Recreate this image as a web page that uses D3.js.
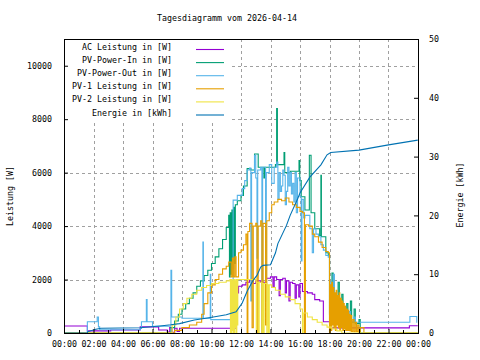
<!DOCTYPE html>
<html>
<head>
<meta charset="utf-8">
<script src="https://cdn.jsdelivr.net/npm/d3@7"></script>
<style>
  body { margin: 0; background: #fff; }
  text { font-family: "DejaVu Sans Mono", monospace; font-size: 8.3px; fill: #000; }
</style>
</head>
<body>
<div id="chart"></div>
<script>
// readings per series: [time, value]
const acLeistung = [
  ["00:00",260],["01:35",80],["03:10",110],["05:10",230],["06:25",110],["07:00",40],["07:10",200],
  ["07:20",30],["07:30",180],["07:40",60],["07:50",180],["11:40",1500],["11:50",1750],["12:05",1800],
  ["12:20",1900],["12:35",2000],["12:50",1850],["13:00",1950],["13:20",1900],["13:40",2050],["14:00",2100],
  ["14:10",1700],["14:15",2100],["14:25",2000],["14:35",1400],["14:40",2000],["14:50",2050],["15:00",1500],
  ["15:05",1950],["15:15",1200],["15:20",1900],["15:30",1850],["15:40",1300],["15:45",1800],["15:55",1350],
  ["16:00",1850],["16:10",1550],["16:30",1500],["16:50",1450],["17:00",1250],["17:20",1200],["17:35",420],
  ["18:05",190],["23:25",270],["23:59",270]
];
const pvPowerIn = [
  ["00:00",0],["07:10",0],["07:15",200],["07:30",450],["07:45",700],["08:00",900],["08:15",1100],
  ["08:30",1300],["08:45",1500],["09:00",1750],["09:15",1950],["09:30",2150],["09:45",2350],["10:00",2600],
  ["10:15",2850],["10:30",3150],["10:45",3500],["11:00",3950],["11:10",4400],["11:13",2100],["11:16",4500],
  ["11:20",2200],["11:23",4600],["11:27",2400],["11:30",4700],["11:34",2600],["11:37",4800],["11:45",4950],
  ["12:00",5150],["12:10",5500],["12:25",6150],["12:40",6100],["12:55",6700],["13:10",6200],["13:33",5800],
  ["13:36",6200],["14:00",6200],["14:20",6300],["14:25",8400],["14:28",6300],["14:55",6750],["14:58",6000],
  ["15:20",6050],["15:56",6450],["15:59",5700],["16:05",5100],["16:20",4600],["16:38",6650],["16:45",4500],
  ["17:00",3900],["17:20",3650],["17:25",5900],["17:27",3600],["17:45",3000],["17:55",2900],["18:00",700],
  ["18:10",2240],["18:15",700],["18:35",1900],["18:40",600],["18:50",1450],["18:55",500],["19:10",1100],
  ["19:15",450],["19:25",1200],["19:30",400],["19:40",900],["19:45",350],["20:00",500],["20:05",0],["23:59",0]
];
const pvPowerOut = [
  ["00:00",0],["01:35",420],["02:15",600],["02:20",230],["02:25",120],["05:10",170],["05:15",420],
  ["05:35",1250],["05:38",420],["06:00",250],["07:15",2350],["07:18",600],["08:00",550],["09:25",3400],
  ["09:27",550],["09:55",2200],["09:57",500],["11:25",500],["11:28",4970],["11:45",5150],["12:05",5400],
  ["12:15",5700],["12:25",6100],["12:35",6170],["12:40",1200],["12:43",6000],["12:55",6650],["13:00",5800],
  ["13:05",2800],["13:08",6100],["13:20",6200],["13:25",0],["13:28",6200],["13:40",1200],["13:43",6000],
  ["13:55",6300],["14:05",5600],["14:15",6200],["14:25",6400],["14:30",5000],["14:35",6000],["14:40",5300],
  ["14:45",5500],["14:50",6100],["14:55",5900],["15:00",4800],["15:05",5300],["15:10",6200],["15:15",5500],
  ["15:20",6000],["15:25",5200],["15:30",5600],["15:35",4900],["15:40",6000],["15:45",4500],["15:50",5800],
  ["16:00",5100],["16:05",2700],["16:08",5000],["16:15",4300],["16:20",4400],["16:30",4400],["16:40",3900],
  ["16:50",3000],["16:55",3900],["17:05",3700],["17:15",3600],["17:25",3300],["17:35",3100],["17:45",2900],
  ["17:55",2840],["18:00",500],["18:05",1900],["18:10",600],["18:15",2200],["18:20",500],["18:40",1300],
  ["18:45",450],["19:00",1000],["19:05",450],["19:20",800],["19:25",420],["19:40",600],["19:45",400],
  ["20:00",400],["23:27",620],["23:55",380]
];
const pv1Leistung = [
  ["00:00",0],["07:10",0],["07:30",100],["08:00",200],["08:30",300],["09:00",400],["09:20",700],
  ["09:30",1100],["09:45",1500],["10:00",1800],["10:15",2000],["10:30",2200],["10:45",2400],["11:00",2500],
  ["11:10",2650],["11:20",2100],["11:25",2800],["11:30",2100],["11:35",2850],["11:40",2100],["11:50",3000],
  ["12:00",3100],["12:10",3300],["12:20",3700],["12:25",0],["12:28",3800],["12:35",4100],["12:45",200],
  ["12:50",4000],["13:00",4100],["13:05",0],["13:10",4000],["13:20",4200],["13:25",0],["13:30",4100],
  ["13:40",300],["13:45",4200],["13:55",4500],["14:05",4800],["14:15",4900],["14:30",5000],["14:45",4950],
  ["15:00",5050],["15:15",4900],["15:30",4800],["15:45",4700],["16:00",4550],["16:10",4500],["16:18",0],
  ["16:22",4050],["16:35",4000],["16:50",3700],["17:00",3600],["17:15",3400],["17:30",3200],["17:45",3050],
  ["17:55",3000],["18:00",0],["18:03",1800],["18:06",100],["18:09",1900],["18:12",300],["18:15",1700],
  ["18:18",200],["18:21",1500],["18:24",100],["18:27",1600],["18:30",300],["18:33",1400],["18:36",200],
  ["18:39",1500],["18:42",100],["18:45",1300],["18:48",200],["18:51",1200],["18:54",100],["18:57",1100],
  ["19:00",150],["19:03",1000],["19:06",100],["19:09",900],["19:12",100],["19:15",850],["19:18",100],
  ["19:21",700],["19:24",80],["19:27",650],["19:30",60],["19:35",500],["19:40",50],["19:45",400],
  ["19:50",50],["19:55",300],["20:00",0],["20:05",200],["20:20",0],["23:59",0]
];
const pv2Leistung = [
  ["00:00",0],["07:10",0],["07:20",300],["07:35",600],["07:50",900],["08:05",1100],["08:20",1300],
  ["08:40",1450],["09:00",1600],["09:20",1700],["09:40",1780],["10:00",1850],["10:30",1900],["11:00",1950],
  ["11:15",2000],["11:17",0],["11:19",2000],["11:21",0],["11:23",1950],["11:25",100],["11:27",2000],
  ["11:29",0],["11:31",2000],["11:33",0],["11:35",1950],["11:37",200],["11:39",2000],["11:41",0],
  ["11:43",2000],["11:45",300],["11:47",2000],["12:30",2000],["13:00",1950],["13:02",0],["13:04",1900],
  ["13:12",0],["13:14",1900],["13:25",0],["13:27",1850],["13:32",0],["13:34",1850],["13:45",0],
  ["13:47",1800],["13:52",0],["13:55",1800],["14:05",1700],["14:20",1600],["14:40",1450],["15:00",1350],
  ["15:20",1250],["15:40",1100],["16:00",900],["16:10",0],["16:13",750],["16:30",600],["16:50",500],
  ["17:10",400],["17:30",300],["17:50",220],["18:10",150],["18:30",80],["18:50",0],["23:59",0]
];
const energie = [
  ["00:00",0],["01:35",0],["01:36",0.2],["02:05",0.6],["02:30",0.8],["05:10",0.9],["06:30",1.2],
  ["07:15",1.4],["07:50",1.6],["08:50",2.2],["09:50",2.6],["11:00",3.1],["11:40",3.6],["12:05",5.1],
  ["12:25",7.1],["12:50",9.0],["13:05",9.8],["13:20",11.2],["13:30",11.5],["14:00",11.6],["14:20",13.6],
  ["14:30",15.2],["15:05",18.3],["15:20",20.0],["15:50",22.8],["16:00",23.8],["16:40",26.5],["17:25",28.6],
  ["17:50",30.3],["18:05",30.7],["20:00",31.1],["22:00",32.0],["23:59",32.8]
];
const leftTicks = [0, 2000, 4000, 6000, 8000, 10000];
const rightTicks = [0, 10, 20, 30, 40, 50];

const width = 480, height = 360;
const plot = { left: 64, right: 418, top: 39, bottom: 333 };

const svg = d3.select('#chart').append('svg')
  .attr('width', width)
  .attr('height', height);

svg.append('rect').attr('width', width).attr('height', height).attr('fill', '#fff');

const parse = d3.timeParse('%H:%M');
const day0 = parse('00:00');
const day1 = d3.timeDay.offset(day0, 1);

const x = d3.scaleTime().domain([day0, day1]).range([plot.left, plot.right]);
const y = d3.scaleLinear().domain([0, 11000]).range([plot.bottom, plot.top]);
const y2 = d3.scaleLinear().domain([0, 50]).range([plot.bottom, plot.top]);

const majorHours = x.ticks(d3.timeHour.every(2));
const minorHours = x.ticks(d3.timeHour.every(1)).filter(d => d.getHours() % 2 === 1);

// grid
const grid = svg.append('g')
  .attr('stroke', '#a0a0a0')
  .attr('stroke-dasharray', '3,3')
  .attr('shape-rendering', 'crispEdges');
grid.selectAll('.vg')
  .data(majorHours.slice(1, -1))
  .enter().append('line')
  .attr('x1', d => Math.round(x(d)) + 0.5).attr('x2', d => Math.round(x(d)) + 0.5)
  .attr('y1', plot.top).attr('y2', plot.bottom);
grid.selectAll('.hg')
  .data(leftTicks.slice(1))
  .enter().append('line')
  .attr('x1', plot.left).attr('x2', plot.right)
  .attr('y1', d => Math.round(y(d)) + 0.5).attr('y2', d => Math.round(y(d)) + 0.5);

// key box hides grid underneath
svg.append('rect')
  .attr('x', plot.left + 1).attr('y', plot.top + 1)
  .attr('width', 165).attr('height', 80)
  .attr('fill', '#fff');

const series = [
  { label: 'AC Leistung in [W]', data: acLeistung, color: '#9400d3', scale: y, curve: d3.curveStepAfter },
  { label: 'PV-Power-In in [W]', data: pvPowerIn, color: '#009e73', scale: y, curve: d3.curveStepAfter },
  { label: 'PV-Power-Out in [W]', data: pvPowerOut, color: '#56b4e9', scale: y, curve: d3.curveStepAfter },
  { label: 'PV-1 Leistung in [W]', data: pv1Leistung, color: '#e69f00', scale: y, curve: d3.curveStepAfter },
  { label: 'PV-2 Leistung in [W]', data: pv2Leistung, color: '#f0e442', scale: y, curve: d3.curveStepAfter },
  { label: 'Energie in [kWh]', data: energie, color: '#0072b2', scale: y2, curve: d3.curveLinear }
];

svg.append('clipPath').attr('id', 'clip')
  .append('rect')
  .attr('x', plot.left).attr('y', plot.top)
  .attr('width', plot.right - plot.left).attr('height', plot.bottom - plot.top);

const lines = svg.append('g').attr('clip-path', 'url(#clip)');
series.forEach(s => {
  const line = d3.line()
    .x(d => x(parse(d[0])))
    .y(d => s.scale(d[1]))
    .curve(s.curve);
  lines.append('path')
    .datum(s.data)
    .attr('d', line)
    .attr('fill', 'none')
    .attr('stroke', s.color)
    .attr('stroke-width', 1.1);
});

// axes, ticks point inward
const xAxis = svg.append('g')
  .attr('transform', `translate(0,${plot.bottom})`)
  .call(d3.axisBottom(x).tickValues(majorHours).tickFormat(d3.timeFormat('%H:%M'))
    .tickSizeInner(-4).tickSizeOuter(0).tickPadding(8));
xAxis.selectAll('.tick')
  .filter((d, i) => i === 0 || i === majorHours.length - 1)
  .select('line').remove();

svg.append('g')
  .selectAll('line')
  .data(minorHours)
  .enter().append('line')
  .attr('x1', d => Math.round(x(d)) + 0.5).attr('x2', d => Math.round(x(d)) + 0.5)
  .attr('y1', plot.bottom).attr('y2', plot.bottom - 3)
  .attr('stroke', '#000');

const yAxis = svg.append('g')
  .attr('transform', `translate(${plot.left},0)`)
  .call(d3.axisLeft(y).tickValues(leftTicks).tickFormat(d3.format('d'))
    .tickSizeInner(-4).tickSizeOuter(0).tickPadding(12));

const y2Axis = svg.append('g')
  .attr('transform', `translate(${plot.right},0)`)
  .call(d3.axisRight(y2).tickValues(rightTicks).tickFormat(d3.format('d'))
    .tickSizeInner(-4).tickSizeOuter(0).tickPadding(11));

[xAxis, yAxis, y2Axis].forEach(a => {
  a.select('.domain').remove();
  a.attr('font-family', null).attr('font-size', null);
  a.selectAll('.tick line').attr('stroke', '#000');
});

// border
svg.append('rect')
  .attr('x', plot.left + 0.5).attr('y', plot.top + 0.5)
  .attr('width', plot.right - plot.left).attr('height', plot.bottom - plot.top)
  .attr('fill', 'none').attr('stroke', '#000')
  .attr('shape-rendering', 'crispEdges');

// key
const key = svg.append('g');
series.forEach((s, i) => {
  const ky = 49.5 + i * 13.1;
  key.append('text')
    .attr('x', 172).attr('y', ky + 0.5)
    .attr('text-anchor', 'end')
    .text(s.label);
  key.append('line')
    .attr('x1', 196).attr('x2', 224)
    .attr('y1', ky).attr('y2', ky)
    .attr('stroke', s.color)
    .attr('stroke-width', 1.1);
});

// titles
svg.append('text')
  .attr('x', 227).attr('y', 20.5)
  .attr('text-anchor', 'middle')
  .text('Tagesdiagramm vom 2026-04-14');

svg.append('text')
  .attr('transform', 'translate(12.5,196) rotate(-90)')
  .attr('text-anchor', 'middle')
  .text('Leistung [W]');

svg.append('text')
  .attr('transform', 'translate(462.5,195) rotate(-90)')
  .attr('text-anchor', 'middle')
  .text('Energie [kWh]');
</script>
</body>
</html>
